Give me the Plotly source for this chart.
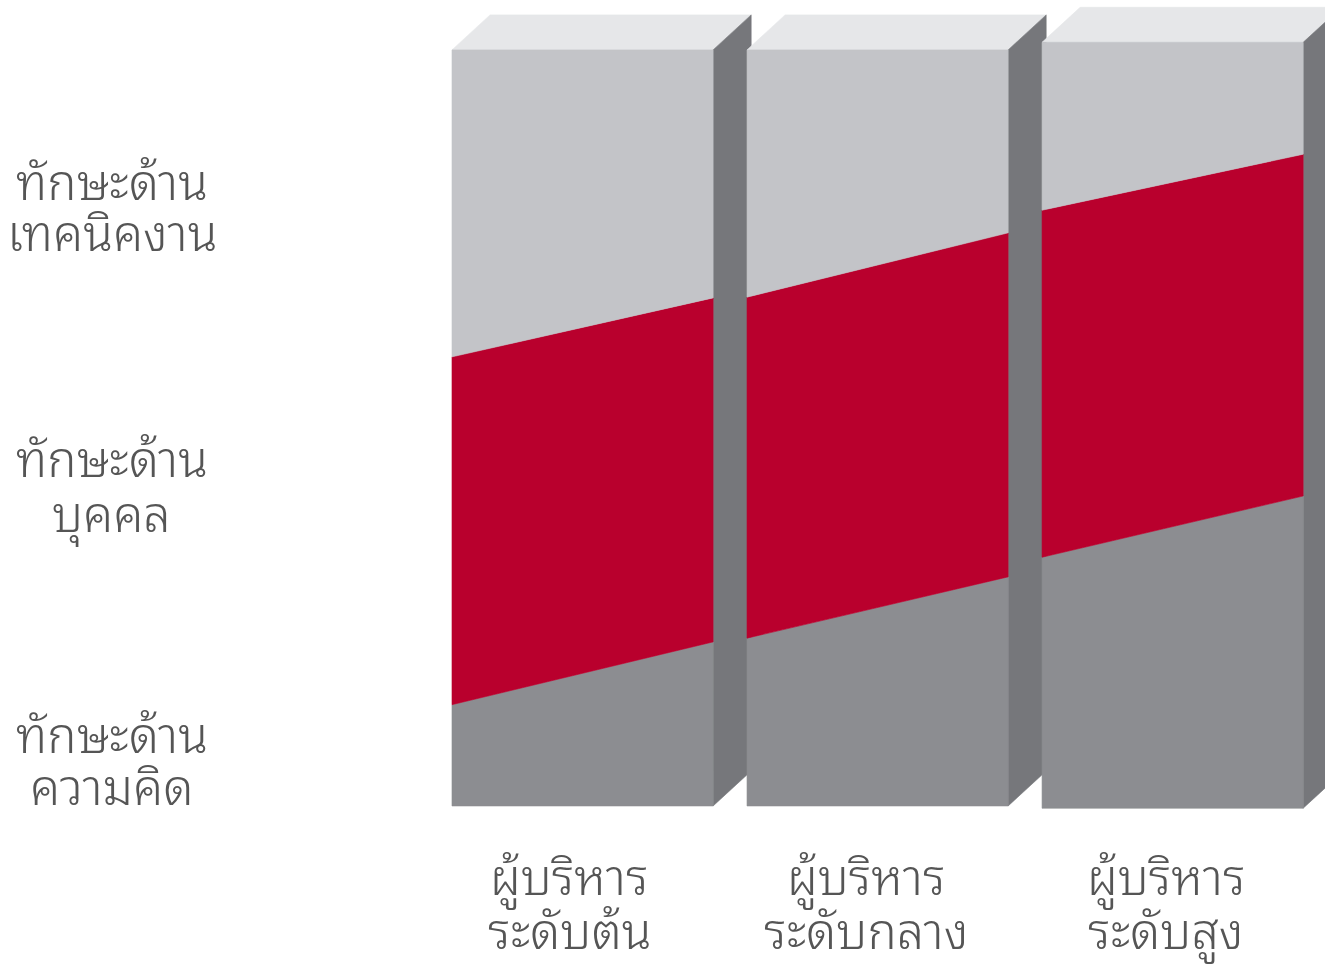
import plotly.graph_objects as go

# ---------------- data ----------------
managers = ["ผู้บริหาร<br>ระดับต้น", "ผู้บริหาร<br>ระดับกลาง", "ผู้บริหาร<br>ระดับสูง"]
skills = ["ทักษะด้าน<br>ความคิด", "ทักษะด้าน<br>บุคคล", "ทักษะด้าน<br>เทคนิคงาน"]

bar_bottom = [0.0, 0.0, -0.3]
bar_top = [100.0, 100.0, 101.0]
# upper edge of the conceptual band (bottom, dark grey) at the left / right edge of each bar
conceptual_left = [13.4, 22.2, 32.9]
conceptual_right = [21.7, 30.3, 41.0]
# upper edge of the human band (middle, red) at the left / right edge of each bar
human_left = [59.4, 67.3, 78.8]
human_right = [67.2, 75.8, 86.2]

# ---------------- style / layout ----------------
BAR_W = 0.885
DX, DY = 0.129, 4.63
C_TOP = "#e6e7e9"
C_TECH = "#c3c4c8"
C_HUMAN = "#b9002d"
C_CONC = "#8c8d91"
C_SIDE = "#76777b"
TXT = "#555555"
FONT = "Noto Sans Thai Looped, serif"
FSIZE = 49
manager_x = [0.397, 1.403, 2.42]
manager_line_y = [-8.9, -16.0]
skill_x = -1.153
skill_line_y = [[9.9, 3.0], [46.4, 39.1], [83.1, 76.3]]

fig = go.Figure()


def poly(xs, ys, color):
    fig.add_trace(go.Scatter(
        x=xs + [xs[0]], y=ys + [ys[0]], mode="lines", fill="toself",
        fillcolor=color, line=dict(width=0.6, color=color),
        hoverinfo="skip", showlegend=False))


for i in range(len(managers)):
    xl = i
    xr = i + BAR_W
    b, t = bar_bottom[i], bar_top[i]
    poly([xl, xr, xr + DX, xl + DX], [t, t, t + DY, t + DY], C_TOP)
    poly([xr, xr, xr + DX, xr + DX], [b, t, t + DY, b + DY], C_SIDE)
    poly([xl, xr, xr, xl], [b, b, conceptual_right[i], conceptual_left[i]], C_CONC)
    poly([xl, xr, xr, xl],
         [conceptual_left[i], conceptual_right[i], human_right[i], human_left[i]], C_HUMAN)
    poly([xl, xr, xr, xl], [human_left[i], human_right[i], t, t], C_TECH)

annotations = []
font = dict(size=FSIZE, color=TXT, family=FONT, weight=300)
for m, xx in zip(managers, manager_x):
    for line, yy in zip(m.split("<br>"), manager_line_y):
        annotations.append(dict(x=xx, y=yy, text=line, showarrow=False,
                                xref="x", yref="y", font=font))
for s, ys in zip(skills, skill_line_y):
    for line, yy in zip(s.split("<br>"), ys):
        annotations.append(dict(x=skill_x, y=yy, text=line, showarrow=False,
                                xref="x", yref="y", font=font))

fig.update_layout(
    width=1325, height=964,
    margin=dict(l=0, r=0, t=0, b=0),
    paper_bgcolor="white", plot_bgcolor="white",
    xaxis=dict(range=[-1.532, 2.959], visible=False, fixedrange=True),
    yaxis=dict(range=[-20.9, 106.6], visible=False, fixedrange=True),
    annotations=annotations,
    showlegend=False,
)

fig.write_html("out.html")
